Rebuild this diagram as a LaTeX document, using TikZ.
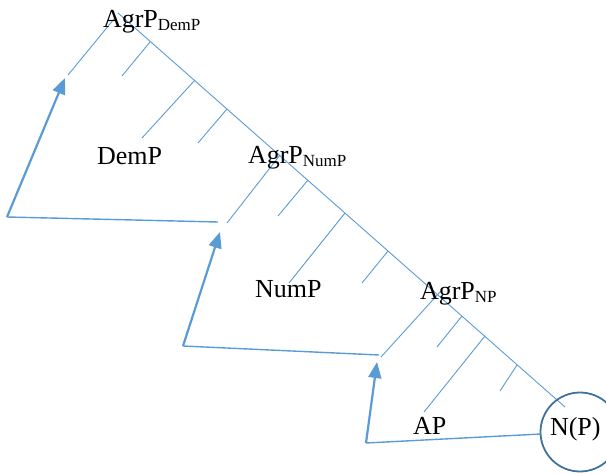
\documentclass[tikz,border=0pt]{standalone}
\usepackage{fontspec}
\setmainfont{Liberation Serif}
\usetikzlibrary{arrows.meta}
\definecolor{treeblue}{HTML}{5B9BD5}
\definecolor{circblue}{HTML}{41719C}
\newcommand\subtxt[1]{\raisebox{-3pt}{\fontsize{17}{20}\selectfont #1}}
\begin{document}
\begin{tikzpicture}[x=1pt,y=-1pt,
  branch/.style={draw=treeblue,line width=0.9pt},
  floorline/.style={draw=treeblue,line width=1.4pt},
  mvarrow/.style={draw=treeblue,line width=2.2pt,-{Triangle[length=16pt,width=13pt]}},
  lbl/.style={anchor=base west,inner sep=0pt,outer sep=0pt,font=\fontsize{26}{30}\selectfont}]
\useasboundingbox (0,0) rectangle (606,474);
% spine
\coordinate (top) at (118,13);
\coordinate (bot) at (565,407);
\draw[branch] (top) -- (bot);
% DemP level
\coordinate (demA) at (114,19);
\coordinate (demL) at (68,75);
\coordinate (d1) at (150,42); \coordinate (d1e) at (122,76);
\coordinate (d2) at (195,80); \coordinate (d2e) at (142,138);
\coordinate (d3) at (227,109); \coordinate (d3e) at (198,143);
\draw[branch] (demA) -- (demL);
\draw[branch] (d1) -- (d1e);
\draw[branch] (d2) -- (d2e);
\draw[branch] (d3) -- (d3e);
% NumP level
\coordinate (numA) at (280,155);
\coordinate (numL) at (227,223);
\coordinate (n1) at (308,180); \coordinate (n1e) at (278,216);
\coordinate (n2) at (345,213); \coordinate (n2e) at (289,283);
\coordinate (n3) at (388,251); \coordinate (n3e) at (362,283);
\draw[branch] (numA) -- (numL);
\draw[branch] (n1) -- (n1e);
\draw[branch] (n2) -- (n2e);
\draw[branch] (n3) -- (n3e);
% NP level
\coordinate (npA) at (440,292);
\coordinate (npL) at (381,357);
\coordinate (p1) at (462,316); \coordinate (p1e) at (437,347);
\coordinate (p2) at (485,336); \coordinate (p2e) at (424,412);
\coordinate (p3) at (517,365); \coordinate (p3e) at (500,391);
\draw[branch] (npA) -- (npL);
\draw[branch] (p1) -- (p1e);
\draw[branch] (p2) -- (p2e);
\draw[branch] (p3) -- (p3e);
% circle
\node[draw=circblue,line width=1.8pt,circle,minimum size=79pt,inner sep=0pt,outer sep=0pt] (npc) at (580,432) {};
% movement
\coordinate (c1) at (7,217);
\coordinate (c1r) at (218,222);
\coordinate (t1) at (65,78);
\coordinate (c2) at (183,346);
\coordinate (c2r) at (379,355);
\coordinate (t2) at (220,232);
\coordinate (c3) at (366,443);
\coordinate (t3) at (377,362);
\draw[floorline] (c1) -- (c1r);
\draw[mvarrow] (c1) -- (t1);
\draw[floorline] (c2) -- (c2r);
\draw[mvarrow] (c2) -- (t2);
\draw[floorline] (c3) -- (npc);
\draw[mvarrow] (c3) -- (t3);
% labels
\node[lbl] (agrdem) at (103,27) {AgrP\subtxt{DemP}};
\node[lbl] (demp) at (97,164) {DemP};
\node[lbl] (agrnum) at (248,163) {AgrP\subtxt{NumP}};
\node[lbl] (nump) at (255,297) {NumP};
\node[lbl] (agrnp) at (420,299) {AgrP\subtxt{NP}};
\node[lbl] (ap) at (413,434) {AP};
\node[lbl] (np) at (550,435) {N(P)};
\end{tikzpicture}
\end{document}
